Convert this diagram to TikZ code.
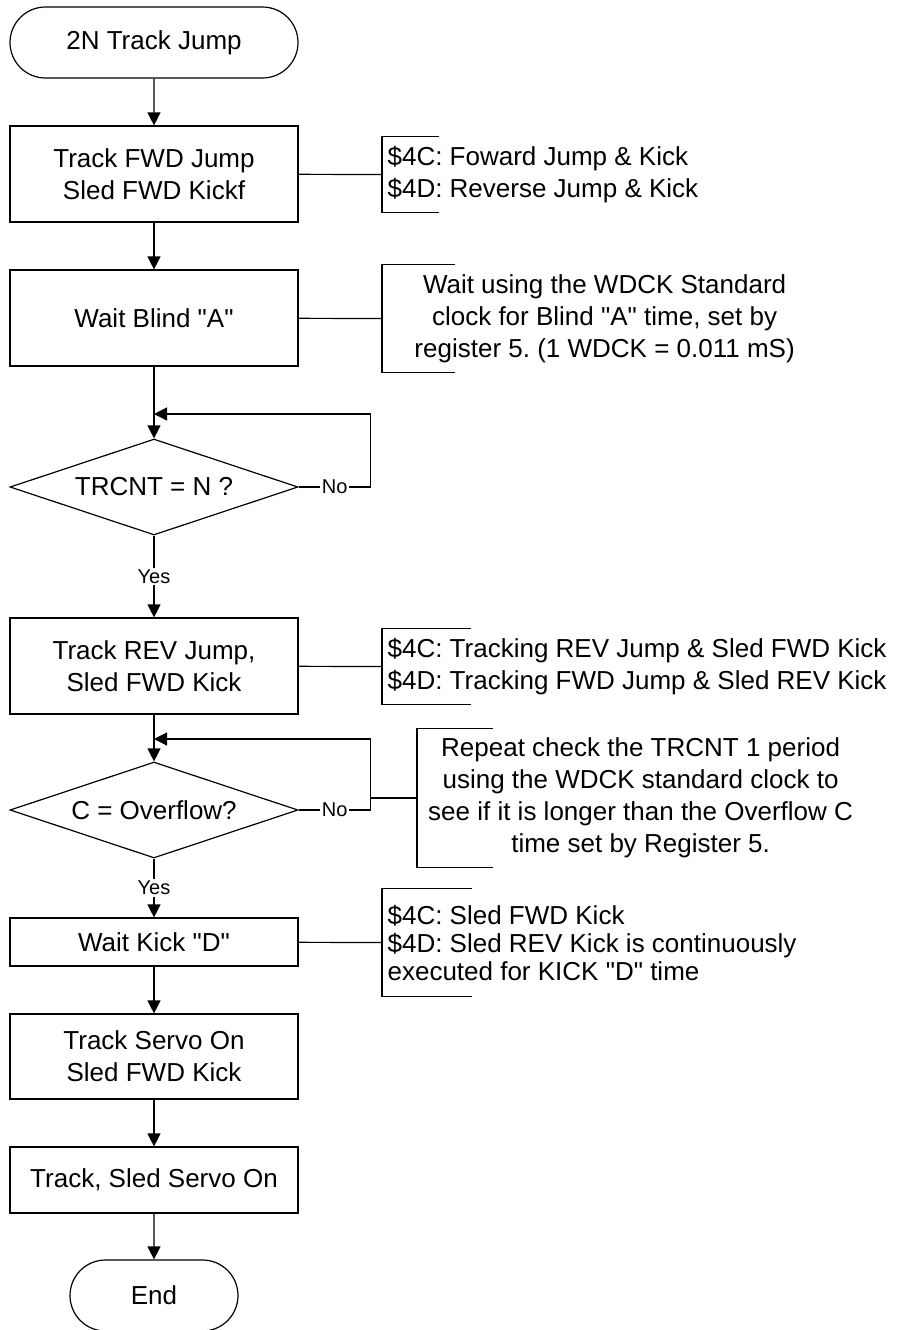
\documentclass[tikz,border=0pt]{standalone}
\usepackage{fontspec}
\setmainfont{Liberation Sans}[Ligatures=TeXOff]
\usetikzlibrary{shapes.geometric, shapes.misc, arrows.meta}

\begin{document}
\frenchspacing
\begin{tikzpicture}[x=0.5pt, y=-0.5pt, line width=0.6pt,
        every node/.style={font=\fontsize{13}{16}\selectfont},
        proc/.style={rectangle, draw, minimum width=144pt, inner sep=0pt, align=center},
        term/.style={rounded rectangle, draw, minimum height=35.5pt, inner sep=0pt},
        decision/.style={diamond, draw, aspect=3, minimum width=144pt, minimum height=48pt, inner sep=0pt},
        note/.style={anchor=west, inner xsep=2.5pt, inner ysep=0pt},
        yn/.style={fill=white, inner sep=1pt, font=\fontsize{10}{12}\selectfont},
        arr/.style={-{Triangle[length=6.5pt, width=6.5pt]}}]
        \useasboundingbox (0,0) rectangle (899,1330);

        % main flow
        \node[term, minimum width=144pt] (start) at (154, 42.5) {2N Track Jump};
        \node[proc, minimum height=48pt] (fwdjump) at (154, 174) {Track FWD Jump\\Sled FWD Kickf};
        \node[proc, minimum height=48pt] (blind) at (154, 318) {Wait Blind "A"};
        \node[decision] (trcnt) at (154, 487) {TRCNT = N ?};
        \node[proc, minimum height=48pt] (revjump) at (154, 666) {Track REV Jump,\\Sled FWD Kick};
        \node[decision] (overflow) at (154, 810) {C = Overflow?};
        \node[proc, minimum height=24pt] (kick) at (154, 942) {Wait Kick "D"};
        \node[proc, minimum height=42.5pt] (trkservo) at (154, 1056.5) {Track Servo On\\Sled FWD Kick};
        \node[proc, minimum height=33pt] (allservo) at (154, 1180) {Track, Sled Servo On};
        \node[term, minimum width=84pt] (end) at (154, 1295.5) {End};

        % notes
        \node[note, minimum height=37.5pt, align=left] (n1) at (382, 174.5)
            {\$4C: Foward Jump \& Kick\\\$4D: Reverse Jump \& Kick};
        \node[note, minimum height=53.5pt, minimum width=222pt, align=center] (n2) at (382, 318.5)
            {Wait using the WDCK Standard\\clock for Blind "A" time, set by\\register 5. (1 WDCK = 0.011 mS)};
        \node[note, minimum height=37.5pt, align=left] (n3) at (382, 666.5)
            {\$4C: Tracking REV Jump \& Sled FWD Kick\\\$4D: Tracking FWD Jump \& Sled REV Kick};
        \node[note, minimum height=69pt, minimum width=223pt, align=center] (n4) at (417, 798)
            {Repeat check the TRCNT 1 period\\using the WDCK standard clock to\\see if it is longer than the Overflow C\\time set by Register 5.};
        \node[note, minimum height=53.5pt, align=left, font=\fontsize{13}{14}\selectfont] (n5) at (382, 942.5)
            {\$4C: Sled FWD Kick\\\$4D: Sled REV Kick is continuously\\executed for KICK "D" time};

        \coordinate (ret1) at (154, 414);
        \coordinate (ret2) at (154, 739);
        \coordinate (tap) at (370, 798);

        \draw[arr] (start) -- (fwdjump);
        \draw[arr] (fwdjump) -- (blind);
        \draw[arr] (blind) -- (trcnt);
        \draw[arr] (trcnt) -- node[yn] {Yes} (revjump);
        \draw[arr] (revjump) -- (overflow);
        \draw[arr] (overflow) -- node[yn] {Yes} (kick);
        \draw[arr] (kick) -- (trkservo);
        \draw[arr] (trkservo) -- (allservo);
        \draw[arr] (allservo) -- (end);

        \draw[arr] (trcnt.east) -- node[yn] {No} ++(72,0) |- (ret1);
        \draw[arr] (overflow.east) -- node[yn] {No} ++(72,0) |- (ret2);

        % brackets
        \draw (fwdjump) -- (n1.west);
        \draw (blind) -- (n2.west);
        \draw (revjump) -- (n3.west);
        \draw (tap) -- (n4.west);
        \draw (kick) -- (n5.west);
        \draw (n1.north west) ++(57,0) -- (n1.north west) -- (n1.south west) -- ++(57,0);
        \draw (n2.north west) ++(73,0) -- (n2.north west) -- (n2.south west) -- ++(73,0);
        \draw (n3.north west) ++(89,0) -- (n3.north west) -- (n3.south west) -- ++(89,0);
        \draw (n4.north west) ++(76,0) -- (n4.north west) -- (n4.south west) -- ++(76,0);
        \draw (n5.north west) ++(90,0) -- (n5.north west) -- (n5.south west) -- ++(90,0);
    \end{tikzpicture}
\end{document}
